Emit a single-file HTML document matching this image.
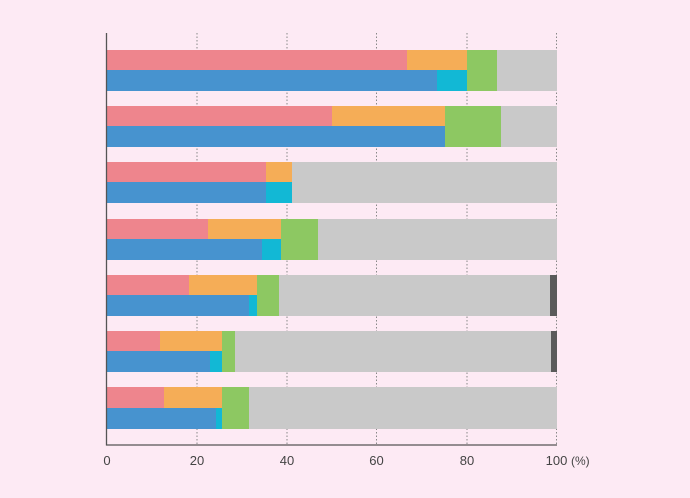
<!DOCTYPE html><html><head><style>body{margin:0;background:#fdeaf4}svg{display:block}text{font-family:"Liberation Sans",sans-serif;font-size:13px;fill:#444}</style></head><body>
<svg width="690" height="498" xmlns="http://www.w3.org/2000/svg">
<rect width="690" height="498" fill="#fdeaf4"/>
<g stroke="#888" stroke-width="1" stroke-dasharray="1.5,2">
<line x1="197" y1="33" x2="197" y2="445"/><line x1="287" y1="33" x2="287" y2="445"/><line x1="376.5" y1="33" x2="376.5" y2="445"/><line x1="467" y1="33" x2="467" y2="445"/><line x1="556.5" y1="33" x2="556.5" y2="445"/></g>
<g id="bars">
<!-- g1 -->
<rect x="107" y="50" width="300" height="20" fill="#ee858d"/><rect x="407" y="50" width="60" height="20" fill="#f5ad57"/><rect x="467" y="50" width="30" height="41" fill="#8dc862"/><rect x="497" y="50" width="60" height="41" fill="#c9c9c9"/>
<rect x="107" y="70" width="330" height="21" fill="#4793cf"/><rect x="437" y="70" width="30" height="21" fill="#12b8d5"/>
<!-- g2 -->
<rect x="107" y="106" width="225" height="20" fill="#ee858d"/><rect x="332" y="106" width="113" height="20" fill="#f5ad57"/><rect x="445" y="106" width="56" height="41" fill="#8dc862"/><rect x="501" y="106" width="56" height="41" fill="#c9c9c9"/>
<rect x="107" y="126" width="338" height="21" fill="#4793cf"/>
<!-- g3 -->
<rect x="107" y="162" width="159" height="20" fill="#ee858d"/><rect x="266" y="162" width="26" height="20" fill="#f5ad57"/><rect x="292" y="162" width="265" height="41" fill="#c9c9c9"/>
<rect x="107" y="182" width="159" height="21" fill="#4793cf"/><rect x="266" y="182" width="26" height="21" fill="#12b8d5"/>
<!-- g4 -->
<rect x="107" y="219" width="101" height="20" fill="#ee858d"/><rect x="208" y="219" width="73" height="20" fill="#f5ad57"/><rect x="281" y="219" width="37" height="41" fill="#8dc862"/><rect x="318" y="219" width="239" height="41" fill="#c9c9c9"/>
<rect x="107" y="239" width="155" height="21" fill="#4793cf"/><rect x="262" y="239" width="19" height="21" fill="#12b8d5"/>
<!-- g5 -->
<rect x="107" y="275" width="82" height="20" fill="#ee858d"/><rect x="189" y="275" width="68" height="20" fill="#f5ad57"/><rect x="257" y="275" width="22" height="41" fill="#8dc862"/><rect x="279" y="275" width="271" height="41" fill="#c9c9c9"/><rect x="550" y="275" width="7" height="41" fill="#5a5a5a"/>
<rect x="107" y="295" width="142" height="21" fill="#4793cf"/><rect x="249" y="295" width="8" height="21" fill="#12b8d5"/>
<!-- g6 -->
<rect x="107" y="331" width="53" height="20" fill="#ee858d"/><rect x="160" y="331" width="62" height="20" fill="#f5ad57"/><rect x="222" y="331" width="13" height="41" fill="#8dc862"/><rect x="235" y="331" width="316" height="41" fill="#c9c9c9"/><rect x="551" y="331" width="6" height="41" fill="#5a5a5a"/>
<rect x="107" y="351" width="103" height="21" fill="#4793cf"/><rect x="210" y="351" width="12" height="21" fill="#12b8d5"/>
<!-- g7 -->
<rect x="107" y="387" width="57" height="21" fill="#ee858d"/><rect x="164" y="387" width="58" height="21" fill="#f5ad57"/><rect x="222" y="387" width="27" height="42" fill="#8dc862"/><rect x="249" y="387" width="308" height="42" fill="#c9c9c9"/>
<rect x="107" y="408" width="109" height="21" fill="#4793cf"/><rect x="216" y="408" width="6" height="21" fill="#12b8d5"/>
</g>
<line x1="106.5" y1="33" x2="106.5" y2="445.5" stroke="#555" stroke-width="1.3"/>
<line x1="106" y1="445" x2="557" y2="445" stroke="#555" stroke-width="1.3"/>
<text x="107" y="465" text-anchor="middle">0</text>
<text x="197" y="465" text-anchor="middle">20</text>
<text x="287" y="465" text-anchor="middle">40</text>
<text x="376.5" y="465" text-anchor="middle">60</text>
<text x="467" y="465" text-anchor="middle">80</text>
<text x="556.5" y="465" text-anchor="middle">100</text>
<text x="571" y="465" style="font-size:12px">(%)</text>
</svg></body></html>
